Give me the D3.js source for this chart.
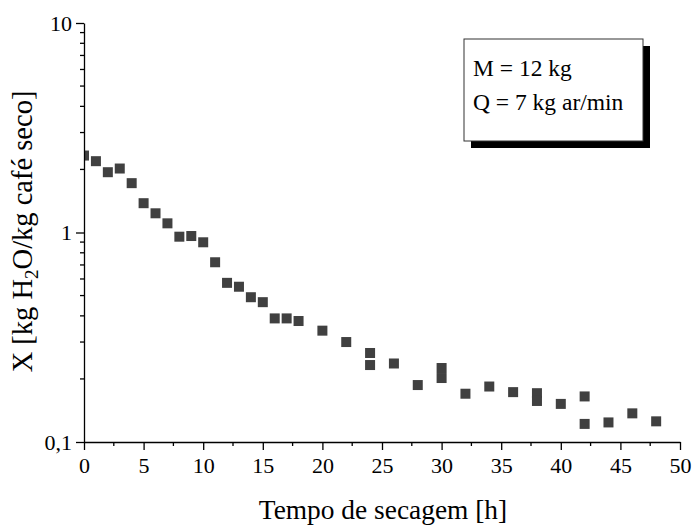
<!DOCTYPE html>
<html>
<head>
<meta charset="utf-8">
<script src="https://cdn.jsdelivr.net/npm/d3@7/dist/d3.min.js"></script>
<style>
  html, body { margin: 0; padding: 0; background: #fff; }
  svg { display: block; }
  text { font-family: "Liberation Serif", "Times New Roman", serif; fill: #000; }
</style>
</head>
<body>
<svg id="chart" width="696" height="527"></svg>
<script>
// Drying time [h] and moisture content X [kg H2O / kg dry coffee]
const tempo = [0, 1, 2, 3, 4, 5, 6, 7, 8, 9, 10, 11, 12, 13, 14, 15, 16, 17, 18, 20, 22,
               24, 24, 26, 28, 30, 30, 32, 34, 36, 38, 38, 40, 42, 42, 44, 46, 48];
const umidade = [2.33, 2.19, 1.94, 2.02, 1.72, 1.38, 1.235, 1.106, 0.955, 0.962, 0.898, 0.721,
                 0.575, 0.551, 0.491, 0.465, 0.389, 0.389, 0.378, 0.340, 0.300,
                 0.266, 0.233, 0.237, 0.187, 0.2255, 0.202, 0.170, 0.184, 0.173, 0.171, 0.157,
                 0.152, 0.165, 0.122, 0.124, 0.137, 0.1255];

const xTicks = [0, 5, 10, 15, 20, 25, 30, 35, 40, 45, 50];
const xMinorTicks = [2.5, 7.5, 12.5, 17.5, 22.5, 27.5, 32.5, 37.5, 42.5, 47.5];
const yTicks = [0.1, 1, 10];
const yTickLabels = ["0,1", "1", "10"];
const legendLines = ["M = 12 kg", "Q = 7 kg ar/min"];

const svg = d3.select("#chart");
const plotL = 84, plotR = 680, plotT = 23, plotB = 442;

const x = d3.scaleLinear().domain([0, 50]).range([plotL, plotR]);
const y = d3.scaleLog().domain([0.1, 10]).range([plotB, plotT]);

// minor log ticks 2..9 in each decade
const yMinor = [];
[0.1, 1].forEach(d => { for (let k = 2; k <= 9; k++) yMinor.push(d * k); });

// markers, clipped to the plotting area
svg.append("defs").append("clipPath").attr("id", "plotClip")
  .append("rect").attr("x", plotL).attr("y", plotT - 10)
  .attr("width", plotR - plotL + 10).attr("height", plotB - plotT + 10);

const ms = 10;
svg.append("g").attr("clip-path", "url(#plotClip)")
  .selectAll("rect").data(tempo.map((t, i) => [t, umidade[i]])).join("rect")
  .attr("x", d => x(d[0]) - ms / 2)
  .attr("y", d => y(d[1]) - ms / 2)
  .attr("width", ms).attr("height", ms)
  .attr("fill", "#404040");

// x axis
const xAxis = svg.append("g").attr("transform", `translate(0,${plotB})`)
  .call(d3.axisBottom(x).tickValues(xTicks).tickFormat(d3.format("d"))
    .tickSize(8).tickPadding(7).tickSizeOuter(0));
xAxis.append("g").selectAll("line").data(xMinorTicks).join("line")
  .attr("x1", d => x(d)).attr("x2", d => x(d)).attr("y1", 0).attr("y2", 4)
  .attr("stroke", "#000").attr("stroke-width", 1.3);

// y axis
const yAxis = svg.append("g").attr("transform", `translate(${plotL},0)`)
  .call(d3.axisLeft(y).tickValues(yTicks).tickFormat((d, i) => yTickLabels[i])
    .tickSize(8).tickPadding(4).tickSizeOuter(0));
yAxis.append("g").selectAll("line").data(yMinor).join("line")
  .attr("y1", d => y(d)).attr("y2", d => y(d)).attr("x1", 0).attr("x2", -4)
  .attr("stroke", "#000").attr("stroke-width", 1.3);

[xAxis, yAxis].forEach(a => {
  a.attr("font-family", null);
  a.select(".domain").attr("stroke", "#000").attr("stroke-width", 1.3);
  a.selectAll(".tick line").attr("stroke", "#000").attr("stroke-width", 1.3);
  a.selectAll(".tick text").attr("font-size", 22).attr("fill", "#000");
});

// axis titles
svg.append("text")
  .attr("x", (plotL + plotR) / 2 + 1).attr("y", 519)
  .attr("text-anchor", "middle").attr("font-size", 27.4)
  .text("Tempo de secagem [h]");

const yt = svg.append("text")
  .attr("transform", `translate(32,${(plotT + plotB) / 2 - 1}) rotate(-90)`)
  .attr("text-anchor", "middle").attr("font-size", 28.5);
yt.append("tspan").text("X [kg H");
yt.append("tspan").attr("font-size", 19).attr("dy", 6).text("2");
yt.append("tspan").attr("dy", -6).text("O/kg café seco]");

// annotation box with drop shadow
const bx = 464, by = 39, bw = 179, bh = 102, sh = 7;
svg.append("rect").attr("x", bx + sh).attr("y", by + sh)
  .attr("width", bw).attr("height", bh).attr("fill", "#000");
svg.append("rect").attr("x", bx).attr("y", by)
  .attr("width", bw).attr("height", bh)
  .attr("fill", "#fff").attr("stroke", "#333").attr("stroke-width", 1);
svg.append("g").selectAll("text").data(legendLines).join("text")
  .attr("x", bx + 9).attr("y", (d, i) => 76 + i * 34)
  .attr("font-size", 23.5)
  .text(d => d);
</script>
</body>
</html>
